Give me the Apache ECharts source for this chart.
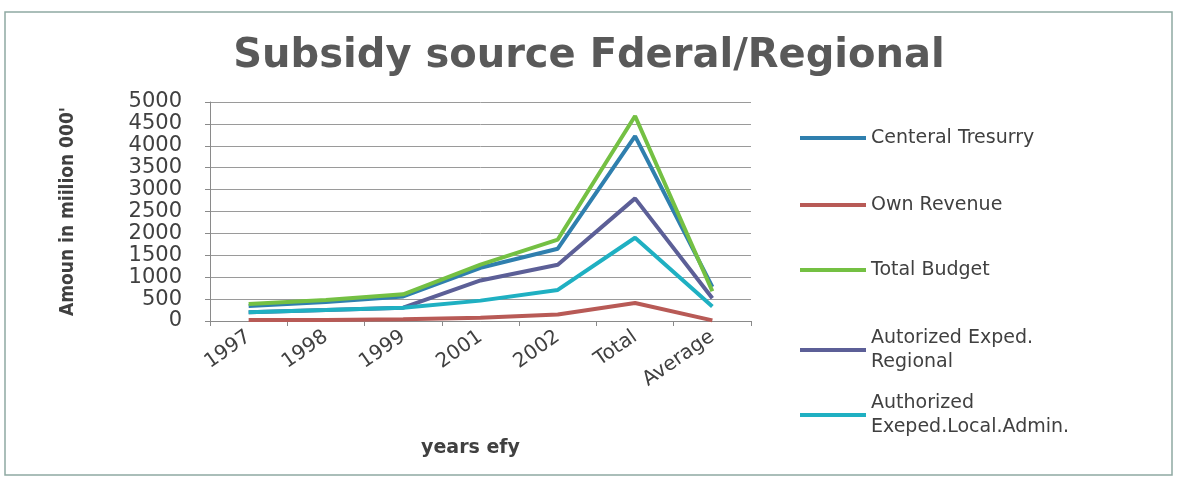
<!DOCTYPE html>
<html>
<head>
<meta charset="utf-8">
<script src="https://cdn.jsdelivr.net/npm/echarts@6/dist/echarts.min.js"></script>
<style>
  html, body { margin: 0; padding: 0; background: #fff; }
  #chart { width: 1178px; height: 481px; }
</style>
</head>
<body>
<div id="chart"></div>
<script>
const categories = ['1997', '1998', '1999', '2001', '2002', 'Total', 'Average'];
const centralTreasury = [345, 435, 560, 1215, 1650, 4220, 780];
const ownRevenue = [25, 25, 40, 75, 150, 410, 15];
const totalBudget = [390, 480, 610, 1285, 1860, 4680, 680];
const authRegional = [200, 250, 305, 925, 1285, 2800, 520];
const authLocal = [200, 250, 305, 465, 710, 1900, 330];

const names = ['Centeral Tresurry', 'Own Revenue', 'Total Budget',
  'Autorized Exped. Regional', 'Authorized Exeped.Local.Admin.'];
const labels = {
  'Autorized Exped. Regional': 'Autorized Exped.\nRegional',
  'Authorized Exeped.Local.Admin.': 'Authorized\nExeped.Local.Admin.'
};
const colors = ['#2f7fae', '#b85a56', '#74c043', '#5c5f97', '#1fb0c2'];
const values = [centralTreasury, ownRevenue, totalBudget, authRegional, authLocal];
const legendTops = [126, 193, 258, 326, 391];

let chart = echarts.init(document.getElementById('chart'));
chart.setOption({
  animation: false,
  color: colors,
  title: {
    text: 'Subsidy source Fderal/Regional',
    left: 'center',
    top: 32,
    textStyle: {
      fontFamily: 'DejaVu Sans',
      fontWeight: 'bold',
      fontSize: 40,
      color: '#595959'
    }
  },
  graphic: [{
    type: 'rect',
    shape: { x: 5, y: 12, width: 1167, height: 463 },
    style: { fill: 'none', stroke: '#8fa9a2', lineWidth: 1.5 }
  }],
  legend: names.map((n, i) => ({
    data: [n],
    orient: 'vertical',
    left: 800,
    top: legendTops[i],
    padding: 0,
    icon: 'rect',
    itemWidth: 66,
    itemHeight: 4,
    formatter: name => labels[name] || name,
    textStyle: {
      fontFamily: 'DejaVu Sans',
      fontSize: 19,
      lineHeight: 24,
      color: '#404040'
    }
  })),
  grid: {
    left: 210,
    right: 427,
    top: 102,
    bottom: 160
  },
  xAxis: {
    type: 'category',
    data: categories,
    name: 'years efy',
    nameLocation: 'middle',
    nameGap: 118,
    nameTextStyle: {
      fontFamily: 'DejaVu Sans',
      fontWeight: 'bold',
      fontSize: 19,
      color: '#404040',
      padding: [0, 20, 0, 0]
    },
    axisLine: { lineStyle: { color: '#8a8a8a' } },
    axisTick: { show: true, length: 5, lineStyle: { color: '#8a8a8a' } },
    axisLabel: {
      rotate: 35,
      margin: 14,
      fontFamily: 'DejaVu Sans',
      fontSize: 20,
      color: '#404040'
    }
  },
  yAxis: {
    type: 'value',
    min: 0,
    max: 5000,
    interval: 500,
    name: "Amoun in miilion 000'",
    nameLocation: 'middle',
    nameGap: 132,
    nameTextStyle: {
      fontFamily: 'DejaVu Sans Condensed',
      fontWeight: 'bold',
      fontSize: 19,
      color: '#404040'
    },
    axisLine: { show: true, lineStyle: { color: '#8a8a8a' } },
    axisTick: { show: true, length: 5, lineStyle: { color: '#8a8a8a' } },
    axisLabel: {
      margin: 28,
      fontFamily: 'DejaVu Sans',
      fontSize: 21,
      color: '#404040',
      formatter: v => String(v)
    },
    splitLine: { lineStyle: { color: '#9a9a9a', width: 1 } }
  },
  series: names.map((n, i) => ({
    name: n,
    type: 'line',
    data: values[i],
    showSymbol: false,
    lineStyle: { width: 4 }
  }))
});
window.addEventListener('resize', function () {
  chart.resize();
});
</script>
</body>
</html>
